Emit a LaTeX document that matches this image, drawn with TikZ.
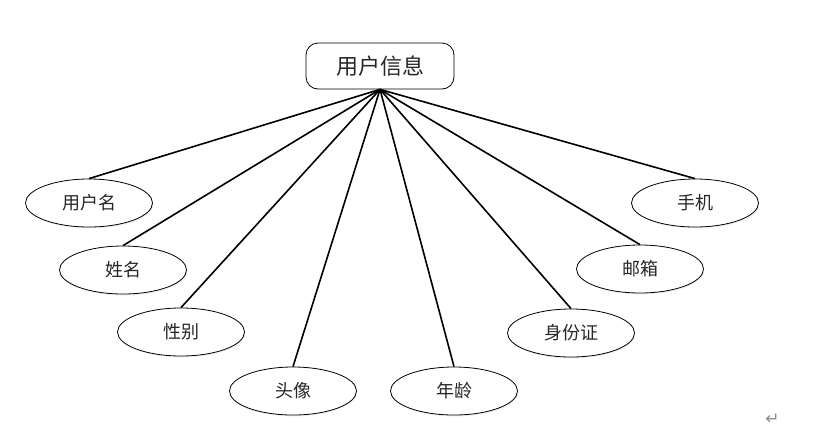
\documentclass[tikz,border=0pt]{standalone}
\usepackage{fontspec}
\newfontfamily\cjk{Noto Sans CJK SC}
\newfontfamily\symfont{DejaVu Sans}
\usetikzlibrary{shapes.geometric, shadows}
\tikzstyle{entity} = [rectangle, rounded corners=12pt, minimum width=148pt, minimum height=46pt, inner sep=0pt, text centered, draw=black, line width=0.8pt, fill=white, text=black!85, font=\cjk\fontsize{22}{26}\selectfont]
\tikzstyle{attr} = [ellipse, minimum width=127pt, minimum height=48pt, inner sep=0pt, text centered, draw=black, line width=0.8pt, fill=white, text=black!85, drop shadow={shadow xshift=1pt, shadow yshift=-1.5pt, fill=blue!25, opacity=0.25}, font=\cjk\fontsize{18}{22}\selectfont]
\tikzstyle{link} = [line width=1.6pt]

\begin{document}
\begin{tikzpicture}[x=1pt, y=-1pt]
      \useasboundingbox (0,0) rectangle (826,429);
      \node (info) [entity] at (380,66) {用户信息};
      \node (uname) [attr] at (89,203) {用户名};
      \node (name) [attr] at (123,270) {姓名};
      \node (sex) [attr] at (181,332) {性别};
      \node (avatar) [attr] at (293,391) {头像};
      \node (age) [attr] at (454,391) {年龄};
      \node (idcard) [attr] at (571,333) {身份证};
      \node (mail) [attr] at (640,269) {邮箱};
      \node (phone) [attr] at (695,203) {手机};
      \node (ret) [text=black!45, inner sep=0pt, font=\symfont\fontsize{17}{19}\selectfont] at (772.5,419.5) {↵};
      \draw [link] (info.south) -- (uname.north);
      \draw [link] (info.south) -- (name.north);
      \draw [link] (info.south) -- (sex.north);
      \draw [link] (info.south) -- (avatar.north);
      \draw [link] (info.south) -- (age.north);
      \draw [link] (info.south) -- (idcard.north);
      \draw [link] (info.south) -- (mail.north);
      \draw [link] (info.south) -- (phone.north);
    \end{tikzpicture}
\end{document}
